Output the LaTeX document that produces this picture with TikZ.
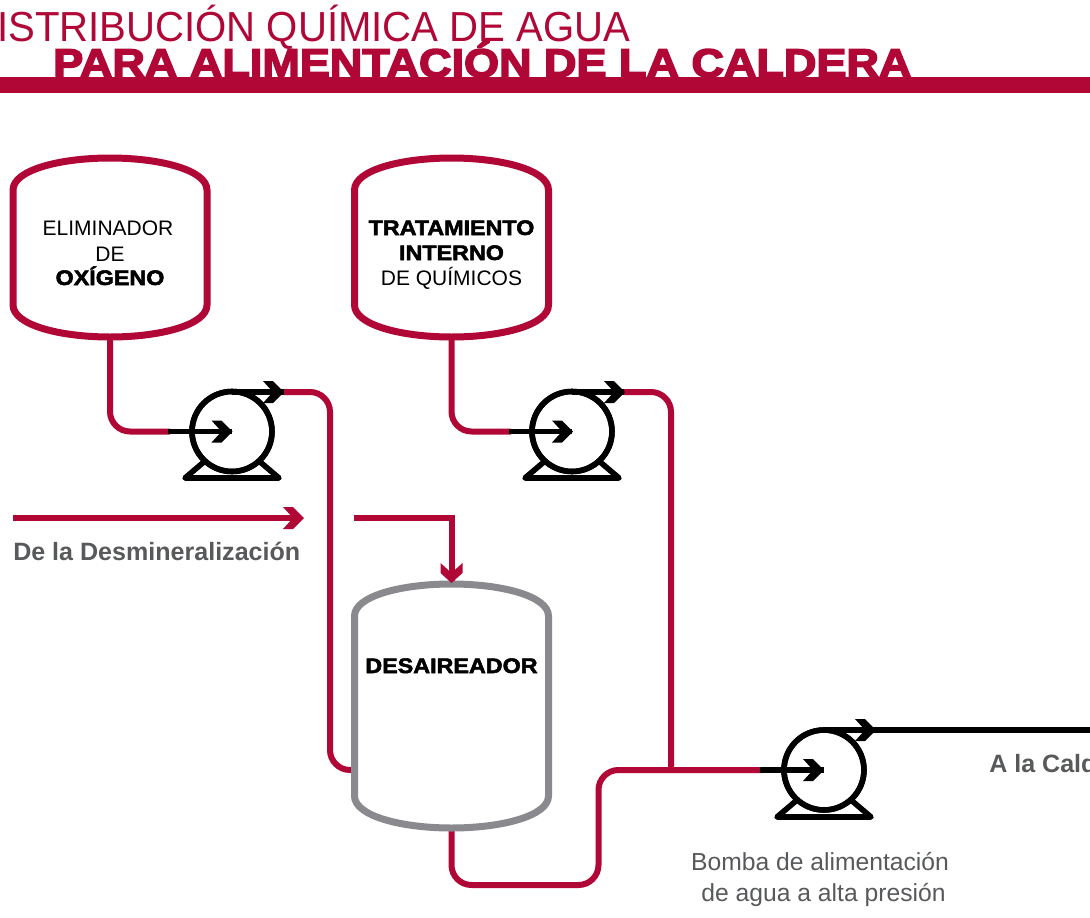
\documentclass[tikz,border=0pt]{standalone}
\usepackage{fontspec}
\setmainfont{Liberation Sans}
\newfontfamily\hvr[FakeStretch=0.955]{Liberation Sans}
\newfontfamily\hvb[UprightFont={* Bold},FakeBold=4,FakeStretch=1.125]{Liberation Sans}
\newfontfamily\hvt[UprightFont={* Bold},FakeBold=2.5,FakeStretch=1.11]{Liberation Sans}
\newfontfamily\hvg[UprightFont={* Bold}]{Liberation Sans}
\definecolor{crim}{HTML}{B00737}
\definecolor{tgrey}{HTML}{8A8A8E}
\definecolor{tx}{HTML}{58595B}
\tikzset{
  pipe/.style={draw=crim,line width=4.5pt,rounded corners=15pt},
  blk/.style={draw=black,line width=4.1pt},
  tankline/.style={line width=5.25pt,line join=round},
  tankbox/.style={inner sep=0,minimum width=145pt,minimum height=#1},
  pumpc/.style={circle,draw=black,line width=4.2pt,minimum size=60pt,inner sep=0},
  tlab/.style={inner sep=0,anchor=base,align=center,font=\fontsize{15.75pt}{19.1pt}\selectfont,text=black},
  tbold/.style={tlab,font=\hvt\fontsize{15.75pt}{19pt}\selectfont},
  grayb/.style={inner sep=0,anchor=base west,text=tx,font=\hvg\fontsize{18.8pt}{20pt}\selectfont},
  grayr/.style={inner sep=0,anchor=base,text=tx,font=\fontsize{18.5pt}{20pt}\selectfont},
}
\newcommand{\tankpath}[4]{%
  \draw[tankline,#4] ({#1-97},{#3-32}) -- ({#1-97},{#2+32})
   .. controls ({#1-97},{#2+12}) and ({#1-50},{#2}) .. ({#1},{#2})
   .. controls ({#1+50},{#2}) and ({#1+97},{#2+12}) .. ({#1+97},{#2+32})
   -- ({#1+97},{#3-32})
   .. controls ({#1+97},{#3-12}) and ({#1+50},{#3}) .. ({#1},{#3})
   .. controls ({#1-50},{#3}) and ({#1-97},{#3-12}) .. cycle;}
\newcommand{\chevr}[3]{%
  \fill[#3] ({#1-21},{#2-11}) -- ({#1-11},{#2-11}) -- ({#1},{#2}) -- ({#1-11},{#2+11})
   -- ({#1-21},{#2+11}) -- ({#1-11},{#2}) -- cycle;}
\newcommand{\chevd}[3]{%
  \fill[#3] ({#1-11},{#2-20}) -- ({#1},{#2-10}) -- ({#1+11},{#2-20})
   -- ({#1+11},{#2-10}) -- ({#1},{#2}) -- ({#1-11},{#2-10}) -- cycle;}
\newcommand{\pumpbase}[2]{%
  \draw[black,line width=4.2pt,line join=round] ({#1-27},{#2+30}) -- ({#1-47},{#2+47}) -- ({#1+47},{#2+47}) -- ({#1+27},{#2+30});}
\begin{document}
\begin{tikzpicture}[x=0.75pt,y=-0.75pt]
\useasboundingbox (0,0) rectangle (1090,918);
\clip (0,0) rectangle (1090,918);
\fill[crim] (0,77) rectangle (1090,93);
\node[inner sep=0,anchor=base west,text=crim,font=\hvr\fontsize{31.5pt}{32pt}\selectfont] (title1) at (0,41) {\kern-2.25pt ISTRIBUCIÓN QUÍMICA DE AGUA};
\node[inner sep=0,anchor=base west,text=crim,font=\hvb\fontsize{30pt}{32pt}\selectfont] (title2) at (53,77) {PARA ALIMENTACIÓN DE LA CALDERA};
\node[tankbox=134pt] (t1) at (110,247.5) {};
\node[tankbox=134pt] (t2) at (451.5,247.5) {};
\node[tankbox=183pt] (t3) at (451.5,706) {};
\node[pumpc] (p1) at (232,431.5) {};
\node[pumpc] (p2) at (572,431.5) {};
\node[pumpc] (p3) at (824,770) {};
\coordinate (i1) at (170,431.5); \coordinate (o1) at (284,392);
\coordinate (i2) at (511,431.5); \coordinate (o2) at (624,392);
\coordinate (i3) at (762,770); \coordinate (o3) at (875,730);
\coordinate (d1) at (353,770); \coordinate (j1) at (671,770);
\coordinate (demA) at (13,518); \coordinate (demB) at (297,518);
\coordinate (demC) at (354,518);
\coordinate (out) at (1090,730);
\draw[pipe] (t1.south) |- (i1);
\draw[pipe] (t2.south) |- (i2);
\draw[pipe] (o1) -| (330,770) -- (d1);
\draw[pipe] (o2) -| (j1);
\draw[pipe] (t3.south) -- (451.5,885) -- (598.5,885) -- (598.5,770) -- (i3);
\draw[draw=crim,line width=4.5pt] (demA) -- (demB);
\draw[draw=crim,line width=4.5pt,line join=miter] (demC) -| (t3.north);
\tankpath{110}{158}{337}{draw=crim,fill=white}
\tankpath{451.5}{158}{337}{draw=crim,fill=white}
\tankpath{451.5}{584}{828}{draw=tgrey}
\foreach \px/\py in {232/431,572/431,824/770}{\pumpbase{\px}{\py}}
\node[pumpc] at (p1) {};
\node[pumpc] at (p2) {};
\node[pumpc] at (p3) {};
\draw[blk] (168,431.5) -- (p1.center);
\draw[blk] (509,431.5) -- (p2.center);
\draw[blk] (760,770) -- (p3.center);
\draw[blk] (p1.center |- o1) -- (o1);
\draw[blk] (p2.center |- o2) -- (o2);
\draw[blk] (p3.center |- o3) -- (o3);
\draw[draw=black,line width=5pt] (o3) -- (out);
\chevr{232.5}{431.5}{black}
\chevr{573}{431.5}{black}
\chevr{824}{770}{black}
\chevr{284}{392}{black}
\chevr{625}{392}{black}
\chevr{876}{730}{black}
\chevr{304}{518}{crim}
\chevd{451.5}{583}{crim}
\node[tlab] (l1) at (108,235) {ELIMINADOR};
\node[tlab] (l1b) at (110,261) {DE};
\node[tbold] (l1c) at (110,285) {OXÍGENO};
\node[tbold] (l2) at (451.5,235) {TRATAMIENTO};
\node[tbold] (l2b) at (451.5,260) {INTERNO};
\node[tlab] (l2c) at (451.5,285) {DE QUÍMICOS};
\node[tbold] (l3) at (451.5,673) {DESAIREADOR};
\node[grayb] (g1) at (13,560) {De la Desmineralización};
\node[grayb] (g2) at (989,772) {A la Cald};
\node[grayr] (g3) at (820,870) {Bomba de alimentación};
\node[grayr] (g4) at (823.5,901) {de agua a alta presión};
\end{tikzpicture}
\end{document}
